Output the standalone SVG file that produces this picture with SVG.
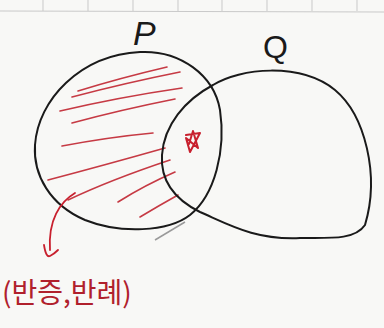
<svg xmlns="http://www.w3.org/2000/svg" width="384" height="328" viewBox="0 0 384 328">
<style>
.grid{stroke:#c9c9c9;stroke-width:1;fill:none}
.set{stroke:#1a1a1a;stroke-width:2;fill:none;stroke-linecap:round;stroke-linejoin:round}
.hatch{stroke:#c63a44;stroke-width:1.6;fill:none;stroke-linecap:round}
.red{stroke:#c8202e;fill:none;stroke-linecap:round;stroke-linejoin:round}
.lbl{font-family:"Liberation Sans","Noto Sans",sans-serif;fill:#1a1a1a}
.note{font-family:"Noto Sans CJK KR",sans-serif;fill:#b0202c}
</style>
<rect width="384" height="328" fill="#f8f8f6"/>
<g id="paper-grid">
<line class="grid" x1="0" y1="11" x2="384" y2="12"/>
<line class="grid" x1="43" y1="0" x2="43" y2="11"/>
<line class="grid" x1="88" y1="0" x2="88" y2="11"/>
<line class="grid" x1="133" y1="0" x2="133" y2="11"/>
<line class="grid" x1="178" y1="0" x2="178" y2="11"/>
<line class="grid" x1="222" y1="0" x2="222" y2="11"/>
<line class="grid" x1="267" y1="0" x2="267" y2="11"/>
<line class="grid" x1="312" y1="0" x2="312" y2="11"/>
<line class="grid" x1="357" y1="0" x2="357" y2="11"/>
</g>
<g id="hatching">
<path class="hatch" d="M78 91 Q120 78 167 67"/>
<path class="hatch" d="M72 97 Q125 83 180 72"/>
<path class="hatch" d="M60 111 Q120 97 182 88"/>
<path class="hatch" d="M72 123 Q120 110 175 99"/>
<path class="hatch" d="M62 146 Q110 137 153 133"/>
<path class="hatch" d="M48 180 Q105 165 165 148"/>
<path class="hatch" d="M68 200 Q110 180 170 160"/>
<path class="hatch" d="M118 202 Q145 185 175 172"/>
<path class="hatch" d="M140 217 Q160 205 178 195"/>
</g>
<g id="P">
<path class="set" d="M140 52 C180 50 214 75 220 110 C226 150 215 195 190 215 C168 232 120 234 85 220 C50 205 33 175 35 145 C38 100 80 55 140 52 Z"/>
<text class="lbl" x="133" y="45" font-size="34" font-style="italic">P</text>
</g>
<g id="Q">
<path class="set" d="M213 85 C240 68 300 62 335 90 C365 115 380 175 365 225 C355 240 330 238 300 238 C255 240 230 225 200 212 C180 202 160 185 162 155 C164 125 185 100 213 85 Z"/>
<text class="lbl" x="263" y="58" font-size="32">Q</text>
</g>
<g id="star">
<path class="red" stroke-width="2" d="M186 135 L200 133 L190 152 L186 138 L198 148 L193 131 L189 144"/>
</g>
<g id="connectors">
<path d="M155 240 L185 222" stroke="#9a9a9a" stroke-width="1.5" fill="none"/>
<path class="red" stroke-width="1.8" d="M75 193 C60 202 48 220 50 250"/>
<path class="red" stroke-width="1.8" d="M44 245 Q46 258 50 256 Q54 254 58 250"/>
</g>
<g id="note">
<text class="note" x="2" y="303" font-size="28">(반증,반례)</text>
</g>
</svg>
